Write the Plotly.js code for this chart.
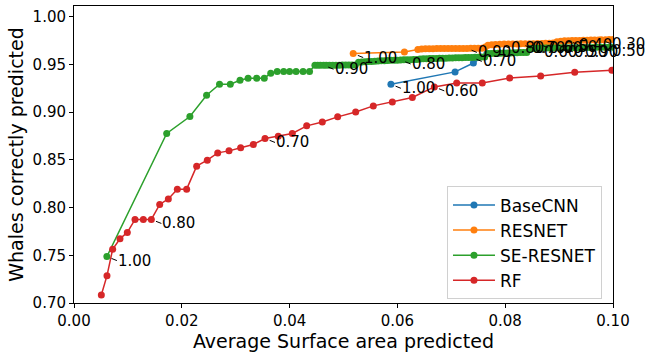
<!DOCTYPE html>
<html><head><meta charset="utf-8">
<script src="https://cdn.plot.ly/plotly-3.0.1.min.js"></script>
<style>body{margin:0;background:#fff}#c{width:652px;height:354px}</style>
</head><body><div id="c"></div>
<script>
// ---- data ----
const seriesNames = ["BaseCNN", "RESNET", "SE-RESNET", "RF"];
const seriesColors = ["#1f77b4", "#ff7f0e", "#2ca02c", "#d62728"];

const baseX = [0.0588, 0.0707, 0.0741, 0.0766];
const baseY = [0.929, 0.942, 0.9513, 0.961];

const resX = [0.0518, 0.0613, 0.0638, 0.0645, 0.0652, 0.0659, 0.0666, 0.0673, 0.0680, 0.0687, 0.0694, 0.0701, 0.0708, 0.0715, 0.0722, 0.0729, 0.0736, 0.0743, 0.0750, 0.0757, 0.0763, 0.0768, 0.0775, 0.0782, 0.0790, 0.0798, 0.0806, 0.0814, 0.0822, 0.0829, 0.0837, 0.0845, 0.0852, 0.0860, 0.0868, 0.0875, 0.0882, 0.0889, 0.0896, 0.0903, 0.0910, 0.0917, 0.0924, 0.0931, 0.0938, 0.0945, 0.0952, 0.0959, 0.0966, 0.0973, 0.0978, 0.0986, 0.0993, 0.1000];
const resY = [0.9612, 0.9629, 0.9654, 0.9660, 0.9662, 0.9663, 0.9663, 0.9664, 0.9664, 0.9664, 0.9665, 0.9665, 0.9665, 0.9666, 0.9666, 0.9666, 0.9667, 0.9667, 0.9667, 0.9668, 0.9680, 0.9700, 0.9705, 0.9708, 0.9710, 0.9711, 0.9712, 0.9712, 0.9713, 0.9714, 0.9714, 0.9715, 0.9716, 0.9717, 0.9718, 0.9719, 0.9720, 0.9722, 0.9735, 0.9742, 0.9745, 0.9747, 0.9748, 0.9749, 0.9750, 0.9751, 0.9752, 0.9753, 0.9754, 0.9755, 0.9756, 0.9757, 0.9758, 0.9760];

const seX = [0.0061, 0.0172, 0.0215, 0.0246, 0.0270, 0.0290, 0.0308, 0.0323, 0.0339, 0.0353, 0.0365, 0.0377, 0.0389, 0.0400, 0.0412, 0.0425, 0.0437,
  0.0447, 0.0452, 0.0457, 0.0463, 0.0468, 0.0474, 0.0480, 0.0486, 0.0492, 0.0498, 0.0504, 0.0510, 0.0516, 0.0522,
  0.0528, 0.0534, 0.0540, 0.0546, 0.0552, 0.0558, 0.0564, 0.0570, 0.0576, 0.0582, 0.0588, 0.0594, 0.0600, 0.0606, 0.0612, 0.0618, 0.0624, 0.0630, 0.0636,
  0.0642, 0.0648, 0.0654, 0.0660, 0.0666, 0.0672, 0.0678, 0.0684, 0.0690, 0.0696, 0.0702, 0.0708, 0.0714, 0.0720, 0.0726, 0.0732, 0.0738, 0.0744, 0.0750, 0.0756, 0.0762,
  0.0768, 0.0774, 0.0780, 0.0786, 0.0792, 0.0798, 0.0804, 0.0810, 0.0816, 0.0822, 0.0828, 0.0834, 0.0840,
  0.0846, 0.0852, 0.0858, 0.0864, 0.0870, 0.0876, 0.0882, 0.0888, 0.0894, 0.0900, 0.0907, 0.0914, 0.0921, 0.0928, 0.0935, 0.0942, 0.0949, 0.0956, 0.0963, 0.0970, 0.0978, 0.0985, 0.0992, 0.1000];
const seY = [0.7486, 0.8775, 0.8953, 0.9176, 0.9291, 0.9291, 0.9333, 0.9354, 0.9354, 0.9354, 0.9406, 0.9424, 0.9424, 0.9424, 0.9424, 0.9424, 0.9424,
  0.9490, 0.9490, 0.9490, 0.9490, 0.9490, 0.9490, 0.9490, 0.9490, 0.9490, 0.9491, 0.9491, 0.9491, 0.9491, 0.9492,
  0.9522, 0.9524, 0.9526, 0.9528, 0.9530, 0.9532, 0.9534, 0.9536, 0.9538, 0.9540, 0.9541, 0.9542, 0.9543, 0.9545, 0.9546, 0.9547, 0.9548, 0.9549, 0.9550,
  0.9556, 0.9557, 0.9558, 0.9559, 0.9560, 0.9561, 0.9562, 0.9563, 0.9564, 0.9565, 0.9566, 0.9567, 0.9568, 0.9569, 0.9570, 0.9571, 0.9572, 0.9573, 0.9574, 0.9575, 0.9576,
  0.9612, 0.9613, 0.9614, 0.9615, 0.9616, 0.9617, 0.9618, 0.9619, 0.9620, 0.9621, 0.9622, 0.9623, 0.9624,
  0.9665, 0.9666, 0.9667, 0.9668, 0.9669, 0.9670, 0.9670, 0.9671, 0.9671, 0.9672, 0.9672, 0.9673, 0.9673, 0.9674, 0.9674, 0.9675, 0.9675, 0.9676, 0.9676, 0.9677, 0.9677, 0.9678, 0.9678, 0.9679];

const rfX = [0.00507, 0.00612, 0.00717, 0.00853, 0.00989, 0.01132, 0.01286, 0.01435, 0.0159, 0.0175, 0.01917, 0.0209, 0.02276, 0.02473, 0.02666, 0.02876, 0.03092, 0.03327, 0.03544, 0.0379, 0.0405, 0.04317, 0.04607, 0.04892, 0.05226, 0.05553, 0.05906, 0.06277, 0.06685, 0.0710, 0.07575, 0.08083, 0.08658, 0.0929, 0.0998];
const rfY = [0.7084, 0.7286, 0.7562, 0.7673, 0.7739, 0.7875, 0.7875, 0.7875, 0.8032, 0.8090, 0.8192, 0.8192, 0.8433, 0.8496, 0.8572, 0.8593, 0.8625, 0.8660, 0.8723, 0.8747, 0.8775, 0.8855, 0.8896, 0.8949, 0.9001, 0.9064, 0.9106, 0.9152, 0.9263, 0.9304, 0.9304, 0.9357, 0.9378, 0.9416, 0.9437];

// threshold labels: [series index, point index, text]
const labelSeries = [2, 3, 3, 3, 0, 2, 2, 1, 1, 2, 1, 1, 1, 1, 1, 1, 2, 2, 2, 2];
const labelPoint  = [0, 7, 18, 28, 0, 20, 44, 0, 15, 66, 24, 29, 33, 37, 41, 50, 85, 94, 97, 104];
const labelText   = ["1.00", "0.80", "0.70", "0.60", "1.00", "0.90", "0.80", "1.00", "0.90", "0.70", "0.80", "0.70", "0.60", "0.50", "0.40", "0.30", "0.60", "0.50", "0.90", "0.50"];

// ---- build ----
const xs = [baseX, resX, seX, rfX];
const ys = [baseY, resY, seY, rfY];
const traces = [0,1,2,3].map(i => ({
  x: xs[i], y: ys[i], name: seriesNames[i], type: 'scatter', mode: 'lines+markers',
  line: {color: seriesColors[i], width: 1.5},
  marker: {color: seriesColors[i], size: 7}
}));

const annotations = labelText.map((t, k) => ({
  x: xs[labelSeries[k]][labelPoint[k]], y: ys[labelSeries[k]][labelPoint[k]],
  xref: 'x', yref: 'y', text: t, showarrow: true, arrowhead: 0, arrowwidth: 1,
  arrowcolor: '#000', ax: 10, ay: 4, standoff: 5, xanchor: 'left', yanchor: 'middle',
  borderpad: 0, font: {family: 'DejaVu Sans', size: 15, color: '#000'}
}));

const layout = {
  width: 652, height: 354,
  margin: {l: 74, r: 39, t: 6, b: 51},
  paper_bgcolor: '#fff', plot_bgcolor: '#fff',
  font: {family: 'DejaVu Sans', color: '#000'},
  showlegend: true,
  legend: {x: 0.692, y: 0.012, xanchor: 'left', yanchor: 'bottom', itemwidth: 42,
    bgcolor: 'rgba(255,255,255,0.8)', bordercolor: '#d0d0d0', borderwidth: 1,
    font: {family: 'DejaVu Sans', size: 17}},
  xaxis: {range: [0, 0.1], tickvals: [0, 0.02, 0.04, 0.06, 0.08, 0.1], tickformat: '.2f',
    showgrid: false, zeroline: false, showline: true, mirror: true, linecolor: '#000', linewidth: 1,
    ticks: 'outside', ticklen: 4, tickcolor: '#000', tickfont: {size: 15},
    title: {text: 'Average Surface area predicted', font: {size: 19}, standoff: 3}},
  yaxis: {range: [0.7, 1.011], tickvals: [0.7, 0.75, 0.8, 0.85, 0.9, 0.95, 1.0], tickformat: '.2f',
    showgrid: false, zeroline: false, showline: true, mirror: true, linecolor: '#000', linewidth: 1,
    ticks: 'outside', ticklen: 4, tickcolor: '#000', tickfont: {size: 15},
    title: {text: 'Whales correctly predicted', font: {size: 19}, standoff: 3}},
  annotations: annotations
};
Plotly.newPlot('c', traces, layout, {staticPlot: true});
</script></body></html>
